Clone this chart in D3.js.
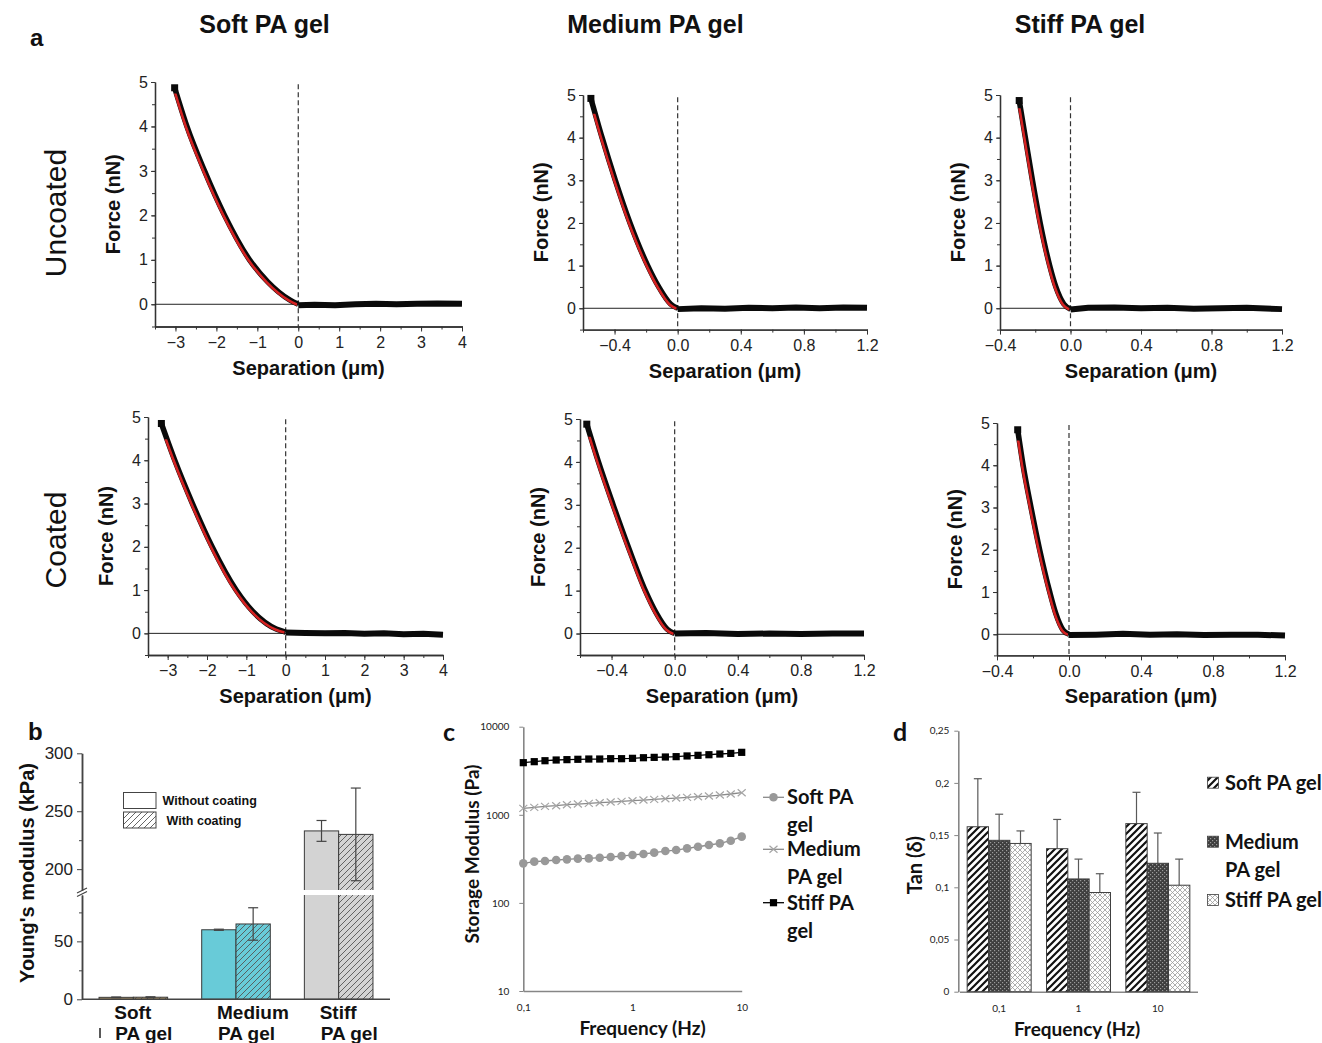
<!DOCTYPE html>
<html>
<head>
<meta charset="utf-8">
<script src="https://cdn.jsdelivr.net/npm/d3@7"></script>
<style>
  body { margin: 0; background: #fff; }
  svg { display: block; }
  text { font-family: "Liberation Sans", Arial, sans-serif; fill: #111; }
  .cal text, text.cal { font-family: Lato, "Open Sans", sans-serif; }
</style>
</head>
<body>
<svg id="fig" width="1322" height="1043"></svg>
<script>
// ---------- data ----------
var gelTitles = ["Soft PA gel", "Medium PA gel", "Stiff PA gel"];
var rowTitles = ["Uncoated", "Coated"];

// AFM approach curves: [separation (um), force (nN)], baseline after contact
var softUncoated = [[-3.02,4.87],[-2.72,4.0],[-2.29,3.0],[-1.80,2.0],[-1.19,1.0],[-0.74,0.5],[-0.21,0.1],[0,0]];
var softUncoatedBase = [[0,-0.02],[0.4,-0.01],[0.9,-0.02],[1.4,0],[1.9,0.01],[2.4,0],[2.9,0.01],[3.4,0.02],[4,0.01]];
var mediumUncoated = [[-0.55,4.92],[-0.479,4.0],[-0.395,3.0],[-0.302,2.0],[-0.19,1.0],[-0.12,0.5],[-0.045,0.1],[0,0]];
var mediumUncoatedBase = [[0,-0.02],[0.15,0],[0.3,-0.01],[0.45,0.01],[0.6,0],[0.75,0.02],[0.9,0],[1.05,0.02],[1.2,0.01]];
var stiffUncoated = [[-0.291,4.87],[-0.256,4.0],[-0.216,3.0],[-0.172,2.0],[-0.118,1.0],[-0.083,0.5],[-0.038,0.1],[0,-0.02]];
var stiffUncoatedBase = [[0,-0.03],[0.1,0.01],[0.25,0.02],[0.4,0],[0.55,0.01],[0.7,-0.01],[0.85,0],[1.0,0.01],[1.2,-0.02]];
var softCoated = [[-3.16,4.85],[-2.82,4.0],[-2.37,3.0],[-1.87,2.0],[-1.26,1.0],[-0.83,0.5],[-0.24,0.1],[0,0.03]];
var softCoatedBase = [[0,0.02],[0.5,0.01],[1,0],[1.5,0.01],[2,-0.01],[2.5,0],[3,-0.02],[3.5,-0.01],[4,-0.03]];
var mediumCoated = [[-0.557,4.88],[-0.483,4.0],[-0.39,3.0],[-0.292,2.0],[-0.186,1.0],[-0.12,0.5],[-0.047,0.1],[0,0]];
var mediumCoatedBase = [[0,0],[0.2,0.01],[0.4,-0.01],[0.6,0],[0.8,-0.01],[1.0,0],[1.2,0]];
var stiffCoated = [[-0.285,4.84],[-0.255,4.0],[-0.211,3.0],[-0.163,2.0],[-0.107,1.0],[-0.074,0.5],[-0.033,0.1],[0,0]];
var stiffCoatedBase = [[0,-0.02],[0.15,-0.01],[0.3,0.01],[0.45,-0.01],[0.6,0],[0.75,-0.02],[0.9,-0.01],[1.05,-0.01],[1.2,-0.03]];
// force where the red Hertz fit starts
var fitStart = [4.75, 4.57, 4.7, 4.5, 4.6, 4.6];

// b: Young's modulus (kPa)
var modulusGroups = ["Soft", "Medium", "Stiff"];
var modulusWithout = [1.7, 60, 233];
var modulusWithoutErr = [0.3, 0.5, 9];
var modulusWith = [1.8, 65, 230];
var modulusWithErr = [0.4, 14, 40];

// c: storage modulus (Pa) vs frequency (Hz)
var freqHz = [0.1,0.126,0.158,0.2,0.251,0.316,0.398,0.501,0.631,0.794,1,1.26,1.58,2,2.51,3.16,3.98,5.01,6.31,7.94,10];
var gSoft = [281,294,299,307,312,318,320,326,332,340,350,359,372,388,398,416,434,454,474,508,565];
var gMedium = [1183,1214,1246,1268,1302,1325,1349,1372,1396,1420,1445,1471,1496,1523,1549,1577,1604,1633,1675,1722,1782];
var gStiff = [3906,4009,4111,4188,4227,4266,4296,4296,4335,4335,4375,4446,4487,4529,4571,4656,4732,4808,4897,4977,5117];
var seriesNames = ["Soft PA gel", "Medium PA gel", "Stiff PA gel"];

// d: tan(delta)
var tanFreqs = [0.1, 1, 10];
var tanSoft = [0.158, 0.137, 0.161];
var tanSoftErr = [0.046, 0.028, 0.030];
var tanMedium = [0.145, 0.108, 0.123];
var tanMediumErr = [0.025, 0.019, 0.029];
var tanStiff = [0.142, 0.095, 0.102];
var tanStiffErr = [0.012, 0.018, 0.025];

// ---------- drawing ----------
var svg = d3.select("#fig");
var defs = svg.append("defs");
var commaFmt = d3.formatLocale({decimal: ",", thousands: "", grouping: [3], currency: ["", ""]}).format("~g");

function styleAxis(sel, size, color, family) {
    sel.attr("font-size", null).attr("font-family", null).attr("color", color);
    sel.selectAll("text").style("font-size", size + "px").style("fill", "#222");
    if (family) sel.selectAll("text").style("font-family", family);
}

// ----- panel a -----
svg.append("text").attr("x", 30).attr("y", 46).attr("font-weight", "bold").attr("font-size", 24).text("a");
[264.5, 655.5, 1080].forEach(function(cx, i) {
    svg.append("text").attr("x", cx).attr("y", 33).attr("text-anchor", "middle")
        .attr("font-weight", "bold").attr("font-size", 25).text(gelTitles[i]);
});
[213, 540].forEach(function(cy, i) {
    svg.append("text").attr("transform", "translate(66," + cy + ") rotate(-90)")
        .attr("text-anchor", "middle").attr("font-size", 30).text(rowTitles[i]);
});

var forcePanels = [
    {curve: softUncoated, base: softUncoatedBase, left: 155, right: 462, top: 82, bottom: 326.5, dom: [-3.5, 4], major: [-3,-2,-1,0,1,2,3,4], minor: d3.range(-3.5, 4.01, 0.5), fmt: d3.format("d")},
    {curve: mediumUncoated, base: mediumUncoatedBase, left: 583, right: 867, top: 95, bottom: 329.6, dom: [-0.6, 1.2], major: [-0.4,0,0.4,0.8,1.2], minor: d3.range(-0.6, 1.21, 0.2), fmt: d3.format(".1f")},
    {curve: stiffUncoated, base: stiffUncoatedBase, left: 1000, right: 1282, top: 95, bottom: 329.6, dom: [-0.4, 1.2], major: [-0.4,0,0.4,0.8,1.2], minor: d3.range(-0.4, 1.21, 0.2), fmt: d3.format(".1f")},
    {curve: softCoated, base: softCoatedBase, left: 148, right: 443, top: 417, bottom: 655, dom: [-3.5, 4], major: [-3,-2,-1,0,1,2,3,4], minor: d3.range(-3.5, 4.01, 0.5), fmt: d3.format("d")},
    {curve: mediumCoated, base: mediumCoatedBase, left: 580, right: 864, top: 419, bottom: 655, dom: [-0.6, 1.2], major: [-0.4,0,0.4,0.8,1.2], minor: d3.range(-0.6, 1.21, 0.2), fmt: d3.format(".1f")},
    {curve: stiffCoated, base: stiffCoatedBase, left: 997, right: 1285, top: 423, bottom: 655.4, dom: [-0.4, 1.2], major: [-0.4,0,0.4,0.8,1.2], minor: d3.range(-0.4, 1.21, 0.2), fmt: d3.format(".1f")}
];

forcePanels.forEach(function(p, i) {
    var x = d3.scaleLinear().domain(p.dom).range([p.left, p.right]);
    var y = d3.scaleLinear().domain([-0.5, 5]).range([p.bottom, p.top]);
    var g = svg.append("g").attr("class", "force");

    var xMinor = g.append("g").attr("transform", "translate(0," + p.bottom + ")")
        .call(d3.axisBottom(x).tickValues(p.minor).tickSize(3).tickSizeOuter(0).tickFormat(""));
    styleAxis(xMinor, 16, "#333");
    var xMajor = g.append("g").attr("transform", "translate(0," + p.bottom + ")")
        .call(d3.axisBottom(x).tickValues(p.major).tickSize(5).tickPadding(5).tickSizeOuter(0).tickFormat(p.fmt));
    styleAxis(xMajor, 16, "#333");
    var yMinor = g.append("g").attr("transform", "translate(" + p.left + ",0)")
        .call(d3.axisLeft(y).tickValues(d3.range(-0.5, 5, 0.5)).tickSize(3).tickSizeOuter(0).tickFormat(""));
    styleAxis(yMinor, 16, "#333");
    var yMajor = g.append("g").attr("transform", "translate(" + p.left + ",0)")
        .call(d3.axisLeft(y).tickValues([0,1,2,3,4,5]).tickSize(4).tickPadding(3).tickSizeOuter(0).tickFormat(d3.format("d")));
    styleAxis(yMajor, 16, "#333");
    g.selectAll(".domain").attr("stroke-width", 1.3);

    // zero force line and contact point
    g.append("line").attr("x1", p.left).attr("x2", p.right).attr("y1", y(0)).attr("y2", y(0))
        .attr("stroke", "#222").attr("stroke-width", 1);
    g.append("line").attr("x1", x(0)).attr("x2", x(0)).attr("y1", y(4.95)).attr("y2", p.bottom)
        .attr("stroke", "#333").attr("stroke-width", 1.2).attr("stroke-dasharray", "5,3");

    var smooth = d3.line().x(function(d) { return x(d[0]); }).y(function(d) { return y(d[1]); }).curve(d3.curveMonotoneX);
    var flat = d3.line().x(function(d) { return x(d[0]); }).y(function(d) { return y(d[1]); });

    g.append("path").datum(p.base).attr("d", flat).attr("fill", "none")
        .attr("stroke", "#0a0a0a").attr("stroke-width", 6);
    g.append("path").datum(p.curve).attr("d", smooth).attr("fill", "none")
        .attr("stroke", "#0a0a0a").attr("stroke-width", 5.5);
    g.append("rect").attr("x", x(p.curve[0][0]) - 3.5).attr("y", y(p.curve[0][1]) - 3.5)
        .attr("width", 7).attr("height", 7).attr("fill", "#0a0a0a");

    // red fit, shown below its starting force and up to contact
    defs.append("clipPath").attr("id", "fit" + i).append("rect")
        .attr("x", p.left).attr("y", y(fitStart[i])).attr("width", x(0) - p.left).attr("height", p.bottom - y(fitStart[i]));
    g.append("path").datum(p.curve).attr("d", smooth).attr("fill", "none")
        .attr("clip-path", "url(#fit" + i + ")").attr("transform", "translate(-1,0.5)")
        .attr("stroke", "#d42222").attr("stroke-width", 2.6);

    g.append("text").attr("x", (p.left + p.right) / 2).attr("y", p.bottom + 48)
        .attr("text-anchor", "middle").attr("font-weight", "bold").attr("font-size", 20).text("Separation (\u03bcm)");
    g.append("text").attr("transform", "translate(" + (p.left - 35) + "," + ((p.top + p.bottom) / 2) + ") rotate(-90)")
        .attr("text-anchor", "middle").attr("font-weight", "bold").attr("font-size", 20).text("Force (nN)");
});

// ----- panel b -----
var bFill = ["#c4a56e", "#68cbd8", "#d3d3d3"];
bFill.concat(["#ffffff"]).forEach(function(c, i) {
    var pat = defs.append("pattern").attr("id", "hatchB" + i).attr("patternUnits", "userSpaceOnUse")
        .attr("width", 6).attr("height", 6);
    pat.append("rect").attr("width", 6).attr("height", 6).attr("fill", c);
    pat.append("path").attr("d", "M-1,1 l2,-2 M0,6 l6,-6 M5,7 l2,-2").attr("stroke", "#555").attr("stroke-width", 0.9);
});

var bx = d3.scaleBand().domain(modulusGroups).range([82, 390]);
var bx1 = d3.scaleBand().domain(["without", "with"]).range([-34.3, 34.3]);
var yLow = d3.scaleLinear().domain([0, 90]).range([999.3, 895]);
var yHigh = d3.scaleLinear().domain([182, 300]).range([890, 753.3]);
function yB(v) { return v <= 90 ? yLow(v) : yHigh(v); }

var gb = svg.append("g");
svg.append("text").attr("x", 28).attr("y", 740).attr("font-weight", "bold").attr("font-size", 24).text("b");

var coatings = [
    {key: "without", vals: modulusWithout, errs: modulusWithoutErr},
    {key: "with", vals: modulusWith, errs: modulusWithErr}
];
coatings.forEach(function(c) {
    modulusGroups.forEach(function(grp, i) {
        var cx = bx(grp) + bx.bandwidth() / 2 + bx1(c.key);
        var v = c.vals[i];
        gb.append("rect").attr("x", cx).attr("width", bx1.bandwidth())
            .attr("y", yB(v)).attr("height", yLow(0) - yB(v))
            .attr("fill", c.key == "with" ? "url(#hatchB" + i + ")" : bFill[i])
            .attr("stroke", "#3a3a3a").attr("stroke-width", 1);
        var mid = cx + bx1.bandwidth() / 2;
        var lo = yB(v - c.errs[i]), hi = yB(v + c.errs[i]);
        gb.append("line").attr("x1", mid).attr("x2", mid).attr("y1", lo).attr("y2", hi)
            .attr("stroke", "#444").attr("stroke-width", 1.2);
        [lo, hi].forEach(function(yy) {
            gb.append("line").attr("x1", mid - 5).attr("x2", mid + 5).attr("y1", yy).attr("y2", yy)
                .attr("stroke", "#444").attr("stroke-width", 1.2);
        });
    });
});
// axis break gap
gb.append("rect").attr("x", 84).attr("y", yHigh(182)).attr("width", 300).attr("height", yLow(90) - yHigh(182)).attr("fill", "#fff");

var bLowMinor = gb.append("g").attr("transform", "translate(82,0)")
    .call(d3.axisLeft(yLow).tickValues([25, 75]).tickSize(3).tickSizeOuter(0).tickFormat(""));
styleAxis(bLowMinor, 17, "#444");
var bLow = gb.append("g").attr("transform", "translate(82,0)")
    .call(d3.axisLeft(yLow).tickValues([0, 50]).tickSize(5).tickPadding(4).tickSizeOuter(0));
styleAxis(bLow, 17, "#444");
var bHighMinor = gb.append("g").attr("transform", "translate(82,0)")
    .call(d3.axisLeft(yHigh).tickValues([225, 275]).tickSize(3).tickSizeOuter(0).tickFormat(""));
styleAxis(bHighMinor, 17, "#444");
var bHigh = gb.append("g").attr("transform", "translate(82,0)")
    .call(d3.axisLeft(yHigh).tickValues([200, 250, 300]).tickSize(5).tickPadding(4).tickSizeOuter(0));
styleAxis(bHigh, 17, "#444");
gb.selectAll(".domain").attr("stroke-width", 1.5);
gb.append("path").attr("d", "M77,896.5 L87,891.5 M77,893 L87,888").attr("stroke", "#444").attr("stroke-width", 1.2);

gb.append("line").attr("x1", 82).attr("x2", 390).attr("y1", yLow(0)).attr("y2", yLow(0))
    .attr("stroke", "#444").attr("stroke-width", 1.5);
modulusGroups.forEach(function(grp) {
    var sx = bx(grp) + bx.bandwidth() / 2 - 19;
    gb.append("text").attr("x", sx).attr("y", 1019).attr("font-weight", "bold").attr("font-size", 19).text(grp);
    gb.append("text").attr("x", sx + 1).attr("y", 1040).attr("font-weight", "bold").attr("font-size", 19).text("PA gel");
});
gb.append("line").attr("x1", 100).attr("x2", 100).attr("y1", 1028).attr("y2", 1038).attr("stroke", "#222").attr("stroke-width", 1.5);

gb.append("text").attr("transform", "translate(34,873) rotate(-90)").attr("text-anchor", "middle")
    .attr("font-weight", "bold").attr("font-size", 20).text("Young's modulus (kPa)");

[["Without coating", "#ffffff", 792.5, 162.5], ["With coating", "url(#hatchB3)", 812, 166.5]].forEach(function(l) {
    gb.append("rect").attr("x", 123.5).attr("y", l[2]).attr("width", 32.5).attr("height", 16)
        .attr("fill", l[1]).attr("stroke", "#444").attr("stroke-width", 1);
    gb.append("text").attr("x", l[3]).attr("y", l[2] + 12.5).attr("font-weight", "bold").attr("font-size", 12.5).text(l[0]);
});

// ----- panel c -----
var gc = svg.append("g").attr("class", "cal");
gc.append("text").attr("x", 443).attr("y", 741).attr("font-weight", "bold").attr("font-size", 25).text("c");
var cx = d3.scaleLog().domain([0.1, 10]).range([523.3, 741.7]);
var cy = d3.scaleLog().domain([10, 10000]).range([991, 726.7]);

var cyAxis = gc.append("g").attr("transform", "translate(523.3,0)")
    .call(d3.axisLeft(cy).tickValues([10, 100, 1000, 10000]).tickSize(4).tickPadding(10).tickSizeOuter(0).tickFormat(d3.format("d")));
styleAxis(cyAxis, 10, "#868686", "Lato");
var cxAxis = gc.append("g").attr("transform", "translate(0,991)")
    .call(d3.axisBottom(cx).tickValues(tanFreqs).tickSize(0).tickPadding(13).tickSizeOuter(0).tickFormat(commaFmt));
styleAxis(cxAxis, 10, "#868686", "Lato");
gc.selectAll(".domain").attr("stroke-width", 1.6);

var cSeries = [
    {vals: gSoft, color: "#999999", marker: "circle"},
    {vals: gMedium, color: "#9a9a9a", marker: "cross"},
    {vals: gStiff, color: "#000000", marker: "square"}
];
function drawMarker(sel, kind, color, px, py) {
    if (kind == "circle") {
        sel.append("circle").attr("cx", px).attr("cy", py).attr("r", 4.3).attr("fill", color);
    } else if (kind == "square") {
        sel.append("rect").attr("x", px - 3.6).attr("y", py - 3.6).attr("width", 7.2).attr("height", 7.2).attr("fill", color);
    } else {
        sel.append("path").attr("d", "M" + (px - 4) + "," + (py - 3.5) + "l8,7M" + (px - 4) + "," + (py + 3.5) + "l8,-7")
            .attr("stroke", "#a5a5a5").attr("stroke-width", 1.2);
    }
}
cSeries.forEach(function(s) {
    var line = d3.line().x(function(d, i) { return cx(freqHz[i]); }).y(function(d) { return cy(d); });
    gc.append("path").datum(s.vals).attr("d", line).attr("fill", "none")
        .attr("stroke", s.color == "#000000" ? "#000" : "#8a8a8a").attr("stroke-width", 1.3);
    s.vals.forEach(function(v, i) { drawMarker(gc, s.marker, s.color, cx(freqHz[i]), cy(v)); });
});

var cLegendY = [797.3, 849.3, 902.7];
cSeries.forEach(function(s, i) {
    var ly = cLegendY[i];
    gc.append("line").attr("x1", 763).attr("x2", 784).attr("y1", ly).attr("y2", ly)
        .attr("stroke", s.color == "#000000" ? "#000" : "#8a8a8a").attr("stroke-width", 1.3);
    drawMarker(gc, s.marker, s.color, 773.5, ly);
    var words = seriesNames[i].split(" ");
    var t = gc.append("text").attr("x", 787).attr("y", ly + 7).attr("font-weight", "bold").attr("font-size", 20);
    if (i == 1) {
        t.append("tspan").text(words[0]);
        t.append("tspan").attr("x", 787).attr("dy", 28).text(words[1] + " " + words[2]);
    } else {
        t.append("tspan").text(words[0] + " " + words[1]);
        t.append("tspan").attr("x", 787).attr("dy", 28).text(words[2]);
    }
});
gc.append("text").attr("transform", "translate(479,854) rotate(-90)").attr("text-anchor", "middle")
    .attr("font-weight", "bold").attr("font-size", 19).text("Storage Modulus (Pa)");
gc.append("text").attr("x", 642.5).attr("y", 1035).attr("text-anchor", "middle")
    .attr("font-weight", "bold").attr("font-size", 19).text("Frequency (Hz)");

// ----- panel d -----
var gd = svg.append("g").attr("class", "cal");
gd.append("text").attr("x", 893).attr("y", 741).attr("font-weight", "bold").attr("font-size", 25).text("d");

var pSoft = defs.append("pattern").attr("id", "patSoft").attr("patternUnits", "userSpaceOnUse").attr("width", 7).attr("height", 7);
pSoft.append("rect").attr("width", 7).attr("height", 7).attr("fill", "#fff");
pSoft.append("path").attr("d", "M-1,1 l2,-2 M0,7 l7,-7 M6,8 l2,-2").attr("stroke", "#111").attr("stroke-width", 2.2);
var pMed = defs.append("pattern").attr("id", "patMedium").attr("patternUnits", "userSpaceOnUse").attr("width", 4).attr("height", 4);
pMed.append("rect").attr("width", 4).attr("height", 4).attr("fill", "#3e3e3e");
pMed.append("rect").attr("x", 0).attr("y", 0).attr("width", 1.2).attr("height", 1.2).attr("fill", "#9a9a9a");
pMed.append("rect").attr("x", 2).attr("y", 2).attr("width", 1.2).attr("height", 1.2).attr("fill", "#9a9a9a");
var pStiff = defs.append("pattern").attr("id", "patStiff").attr("patternUnits", "userSpaceOnUse").attr("width", 5).attr("height", 5);
pStiff.append("rect").attr("width", 5).attr("height", 5).attr("fill", "#fff");
pStiff.append("path").attr("d", "M0,0 L5,5 M5,0 L0,5").attr("stroke", "#9a9a9a").attr("stroke-width", 0.8);

var dx0 = d3.scaleBand().domain(tanFreqs).range([959.5, 1197.5]);
var dx1 = d3.scaleBand().domain(["soft", "medium", "stiff"]).range([-32, 32]);
var dy = d3.scaleLinear().domain([0, 0.25]).range([991.7, 730.7]);

var dyAxis = gd.append("g").attr("transform", "translate(958.3,0)")
    .call(d3.axisLeft(dy).tickValues([0, 0.05, 0.1, 0.15, 0.2, 0.25]).tickSize(4).tickPadding(5).tickSizeOuter(0).tickFormat(commaFmt));
styleAxis(dyAxis, 10, "#868686", "Lato");
var dxAxis = gd.append("g").attr("transform", "translate(0,991.7)")
    .call(d3.axisBottom(dx0).tickSize(0).tickPadding(13).tickSizeOuter(0).tickFormat(commaFmt));
styleAxis(dxAxis, 10, "#868686", "Lato");
gd.selectAll(".domain").attr("stroke-width", 1.6);

var tanSeries = [
    {key: "soft", vals: tanSoft, errs: tanSoftErr, fill: "url(#patSoft)"},
    {key: "medium", vals: tanMedium, errs: tanMediumErr, fill: "url(#patMedium)"},
    {key: "stiff", vals: tanStiff, errs: tanStiffErr, fill: "url(#patStiff)"}
];
tanSeries.forEach(function(s) {
    tanFreqs.forEach(function(f, i) {
        var bxs = dx0(f) + dx0.bandwidth() / 2 + dx1(s.key);
        var mid = bxs + dx1.bandwidth() / 2;
        var top = s.vals[i] + s.errs[i];
        gd.append("line").attr("x1", mid).attr("x2", mid).attr("y1", dy(s.vals[i])).attr("y2", dy(top))
            .attr("stroke", "#595959").attr("stroke-width", 1.2);
        gd.append("line").attr("x1", mid - 4).attr("x2", mid + 4).attr("y1", dy(top)).attr("y2", dy(top))
            .attr("stroke", "#595959").attr("stroke-width", 1.2);
        gd.append("rect").attr("x", bxs).attr("width", dx1.bandwidth())
            .attr("y", dy(s.vals[i])).attr("height", dy(0) - dy(s.vals[i]))
            .attr("fill", s.fill).attr("stroke", "#404040").attr("stroke-width", 1);
    });
});

var dLegendY = [782.7, 841.7, 900];
tanSeries.forEach(function(s, i) {
    var ly = dLegendY[i];
    gd.append("rect").attr("x", 1207.5).attr("y", ly - 5.5).attr("width", 11).attr("height", 11)
        .attr("fill", s.fill).attr("stroke", "#404040").attr("stroke-width", 0.8);
    var t = gd.append("text").attr("x", 1225).attr("y", ly + 7).attr("font-weight", "bold").attr("font-size", 20);
    if (i == 1) {
        t.append("tspan").text("Medium");
        t.append("tspan").attr("x", 1225).attr("dy", 28).text("PA gel");
    } else {
        t.text(seriesNames[i]);
    }
});
gd.append("text").attr("transform", "translate(922,865) rotate(-90)").attr("text-anchor", "middle")
    .attr("font-weight", "bold").attr("font-size", 20).text("Tan (\u03b4)");
gd.append("text").attr("x", 1077).attr("y", 1036).attr("text-anchor", "middle")
    .attr("font-weight", "bold").attr("font-size", 19).text("Frequency (Hz)");
</script>
</body>
</html>
